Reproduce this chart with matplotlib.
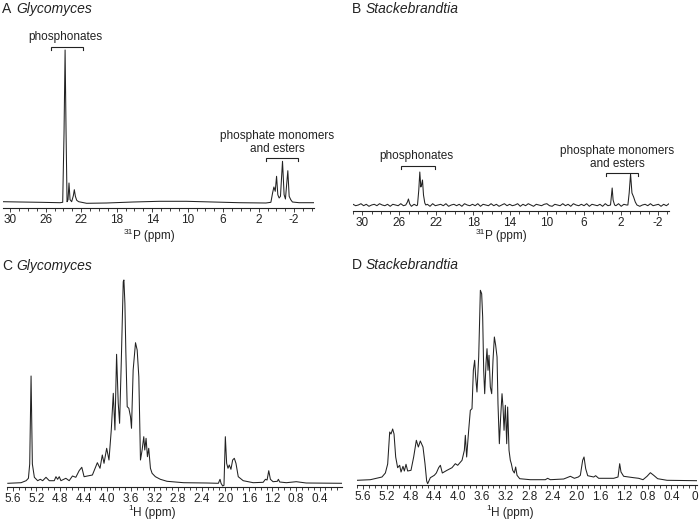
import numpy as np
import matplotlib
matplotlib.use("Agg")
from matplotlib import pyplot as plt
from matplotlib import ticker

plt.rcParams['font.family'] = ['Liberation Sans', 'DejaVu Sans']
plt.rcParams['axes.unicode_minus'] = False

# ---- traced spectra: (ppm, height above baseline in px) ----
a_ppm = [30.82, 28.88, 26.63, 24.39, 24.09, 23.94, 23.82, 23.71, 23.60, 23.49, 23.38, 23.26,
         23.08, 22.89, 22.78, 22.66, 22.51, 22.29, 21.39, 19.15, 16.15, 13.16, 10.16, 7.17,
         4.18, 1.18, 0.62, 0.43, 0.28, 0.13, -0.02, -0.16, -0.31, -0.46, -0.69, -0.87,
         -1.02, -1.14, -1.29, -1.44, -1.62, -1.81, -2.56, -4.24]
a_int = [1.3, 1.0, 0.7, 0.3, 0.7, 70, 153, 70, 1.3, 3.3, 20, 3.3,
         1.3, 7.3, 13.3, 6.7, 2.7, 1.3, -0.3, 0, 1.0, 1.7, 1.7, 1.0,
         0.3, 0, 0.7, 10, 16, 11.7, 26.7, 8.3, 5, 6.7, 41.7, 8.3,
         4, 16.7, 32.3, 6.7, 3.3, 1.0, 0.3, 0.3]

b_peak_ppm = [25.30, 25.12, 25.01, 24.87, 24.03, 23.89, 23.78, 23.67, 23.59, 23.49, 23.38,
              23.24, 23.13, 3.14, 3.04, 2.96, 2.86, 2.70, 1.26, 1.12, 0.97, 0.82, 0.64,
              0.46, 0.28]
b_peak_int = [0, 3, 6, 1, 0, 15, 33, 18, 20, 25, 10,
              2, 0, 0, 10, 17, 5, 0, 0, 12, 31, 12, 8,
              3, 0]
b_noise = [0.7, -0.7, 0, 1.3, -0.7, 0.7, -1.3, 0, 0.7, -0.7, 1.3, 0, -0.7, 0.7, -1.3, 0.7,
           0, -0.7, 1.3, -0.7, 0, 0.7, -1.3, 0.7, -0.7, 1.3, 0, -0.7, 0.7, -1.3, 1.3, -0.7,
           0, 0.7, -0.7, 1.3, -1.3, 0, 0.7, -0.7, 0.7, -1.3, 1.3, 0, -0.7, 0.7, -0.7, 1.3,
           -1.3, 0.7, 0, -0.7, 1.3, -0.7, 0.7, -1.3, 0, 1.3, -0.7, 0.7, -0.7, 0, 1.3, -1.3,
           0.7, -0.7, 1.3, 0, -1.3, 0.7, 0, -0.7, 0.7, 1.3, -0.7, -1.3, 0.7, 0, -0.7, 1.3,
           -0.7, 0.7, -1.3, 1.3, 0, -0.7, 0.7, -0.7, 1.3, -1.3, 0.7, 0, -0.7, 0.7, -1.3, 1.3,
           -0.7, 0, 0.7, -0.7, 1.3, -1.3, 0.7, 0, -0.7, 1.3, -0.7, 0.7, -1.3, 0, 0.7, -0.7,
           1.3, -0.7, 0, 0.7, -1.3, 0.7, -0.7, 1.3]
b_peak_windows = [(25.35, 24.80), (24.10, 23.10), (3.20, 2.65), (1.32, 0.25)]

c_ppm = [5.686, 5.461, 5.376, 5.337, 5.315, 5.292, 5.270, 5.236, 5.180, 5.135, 5.095, 5.039,
         4.983, 4.899, 4.870, 4.842, 4.814, 4.786, 4.702, 4.646, 4.590, 4.533, 4.477, 4.432,
         4.393, 4.336, 4.252, 4.168, 4.123, 4.084, 4.055, 4.010, 3.971, 3.932, 3.898, 3.870,
         3.842, 3.814, 3.791, 3.763, 3.729, 3.718, 3.701, 3.685, 3.662, 3.634, 3.606, 3.589,
         3.561, 3.521, 3.493, 3.465, 3.437, 3.409, 3.381, 3.364, 3.342, 3.319, 3.297, 3.268,
         3.240, 3.184, 3.100, 2.987, 2.706, 2.313, 2.116, 2.088, 2.071, 2.043, 2.021, 1.998,
         1.976, 1.953, 1.931, 1.903, 1.874, 1.846, 1.818, 1.779, 1.695, 1.526, 1.357, 1.318,
         1.290, 1.262, 1.234, 1.189, 1.116, 1.099, 1.076, 0.964, 0.795, 0.627, 0.008]
c_int = [0.7, 1.3, 3.3, 5.7, 20, 108, 20, 6.7, 3.3, 4.7, 3.3, 6.7,
         3.3, 3.3, 7.3, 4.7, 7.3, 3.3, 5.7, 3.3, 8, 6.7, 13.3, 16.7,
         7.3, 8, 9, 21.3, 15.7, 29, 20.7, 35.7, 24, 54, 90.7, 54,
         129.7, 80.7, 60.7, 120.7, 202.3, 204, 180.7, 132.3, 77.3, 75.7, 67.3, 55.7,
         114, 141.3, 134, 107.3, 24, 34, 47.3, 34, 45.7, 27.3, 35.7, 15.7,
         10.7, 7.3, 4.7, 2.7, 1.3, 1.0, 0.7, 4.7, 0.7, -2, -1.3, 47.3,
         20.7, 15.7, 19, 14.7, 24, 25.7, 20.7, 7.3, 3.3, 1.3, 1.7, 4.7,
         4, 13.3, 4.7, 2.3, 2.7, 4.7, 2, 1.3, 2.3, 1.0, 0.7]

d_ppm = [5.700, 5.475, 5.279, 5.222, 5.183, 5.149, 5.127, 5.099, 5.076, 5.048, 5.015, 4.981,
         4.958, 4.925, 4.902, 4.874, 4.846, 4.790, 4.745, 4.700, 4.666, 4.633, 4.588, 4.554,
         4.526, 4.509, 4.464, 4.397, 4.363, 4.324, 4.295, 4.262, 4.183, 4.099, 4.043, 4.003,
         3.930, 3.891, 3.874, 3.852, 3.818, 3.790, 3.762, 3.739, 3.717, 3.700, 3.678, 3.649,
         3.621, 3.599, 3.582, 3.565, 3.548, 3.526, 3.509, 3.492, 3.475, 3.453, 3.430, 3.408,
         3.385, 3.363, 3.340, 3.324, 3.301, 3.279, 3.256, 3.239, 3.222, 3.200, 3.177, 3.161,
         3.138, 3.116, 3.099, 3.076, 3.048, 3.026, 3.003, 2.958, 2.779, 2.526, 2.487, 2.442,
         2.217, 2.104, 2.037, 1.970, 1.936, 1.897, 1.874, 1.846, 1.812, 1.711, 1.678, 1.627,
         1.374, 1.301, 1.273, 1.251, 1.206, 1.121, 1.037, 0.953, 0.880, 0.812, 0.756, 0.700,
         0.633, 0.475, -0.030]
d_int = [0.7, 1.3, 4, 8, 17, 49, 47, 52, 47, 24, 13.3, 15.7,
         9, 14.7, 10, 16.7, 10, 10.7, 24, 40.7, 34, 40, 34, 17.3,
         0, -2.7, 3.3, 5.7, 8, 13.3, 15.7, 8, 10.7, 13.3, 17.3, 15.7,
         20.7, 30.7, 45.7, 24, 50.7, 70.7, 72.3, 110.7, 120.7, 104, 89, 124,
         190.7, 187.3, 164, 110.7, 87.3, 117.3, 132.3, 110.7, 125.7, 94, 87.3, 120.7,
         144, 135.7, 124, 77.3, 37.3, 64, 87.3, 74, 50.7, 75.7, 37.3, 74,
         30.7, 20.7, 17.3, 10.7, 8, 14, 5.7, 2.3, 1.3, 1.3, 2.7, 1.3,
         2, 4.7, 2.7, 4, 5.7, 20.7, 24, 12.3, 5.3, 4, 5.3, 2.7,
         2.7, 4, 17.3, 9, 4.7, 4, 3.3, 2.7, 1.3, 4.7, 8.3, 5.7,
         2.3, 0.7, 0.3]

p_ticks = [30, 26, 22, 18, 14, 10, 6, 2, -2]
h_ticks_c = [5.6, 5.2, 4.8, 4.4, 4.0, 3.6, 3.2, 2.8, 2.4, 2.0, 1.6, 1.2, 0.8, 0.4]
h_ticks_d = h_ticks_c + [0.0]

W, H = 700, 522
INK = '#222222'


def fx(x):
    return x / W


def fy(y):
    return 1 - y / H


def make_axes(fig, left, right, top, bottom, xlim, ylim):
    ax = fig.add_axes([fx(left), fy(bottom), (right - left) / W, (bottom - top) / H])
    ax.set_xlim(*xlim)
    ax.set_ylim(*ylim)
    for s in ['left', 'right', 'top']:
        ax.spines[s].set_visible(False)
    ax.spines['bottom'].set_linewidth(0.8)
    ax.spines['bottom'].set_color(INK)
    ax.set_yticks([])
    ax.tick_params(axis='x', which='both', direction='out', color=INK,
                   labelsize=8.5, labelcolor=INK, pad=1.5, width=0.6)
    ax.tick_params(axis='x', which='major', length=3)
    ax.tick_params(axis='x', which='minor', length=2.2)
    ax.patch.set_alpha(0)
    return ax


def bracket(ax, x0, x1, y, drop):
    ax.plot([x0, x0, x1, x1], [y - drop, y, y, y - drop], color=INK, lw=0.8,
            clip_on=False, solid_joinstyle='miter')


def title(fig, x, y, letter, name):
    fig.text(fx(x), fy(y), letter, fontsize=10, color=INK, va='center', ha='left')
    fig.text(fx(x + 14), fy(y), name, fontsize=10, color=INK, va='center', ha='left',
             style='italic')


def xlabel(fig, x, y, sup, rest):
    # small raised isotope number followed by the nucleus and unit
    fig.text(fx(x), fy(y - 4), sup, fontsize=6, color=INK, ha='right', va='center')
    fig.text(fx(x), fy(y), rest, fontsize=8.5, color=INK, ha='left', va='center')


fig = plt.figure(figsize=(7, 5.22), dpi=100)

# ---- A ----
axA = make_axes(fig, 3, 314, 40, 208, (30.82, -4.24), (-5, 163))
axA.plot(a_ppm, a_int, color=INK, lw=0.75)
axA.set_xticks(p_ticks)
axA.set_xticklabels([str(t) for t in p_ticks])
axA.xaxis.set_minor_locator(ticker.MultipleLocator(1))
axA.text(23.82, 203 - 37, 'phosphonates', fontsize=8.5, color=INK, ha='center', va='center')
bracket(axA, 25.43, 21.77, 203 - 47, 3)
axA.text(-0.13, 203 - 142.5, 'phosphate monomers\nand esters', fontsize=8.5, color=INK,
         ha='center', va='center', linespacing=1.15)
bracket(axA, 1.18, -2.45, 203 - 158, 3)
title(fig, 2, 9, 'A', 'Glycomyces')
xlabel(fig, 133, 236, '31', 'P (ppm)')

# ---- B ----
axB = make_axes(fig, 353, 669, 40, 211, (31.01, -3.19), (-6, 165))
grid = np.linspace(31.01, -3.19, len(b_noise))
keep = np.ones(len(grid), dtype=bool)
for hi, lo in b_peak_windows:
    keep &= ~((grid <= hi) & (grid >= lo))
bx = np.concatenate([grid[keep], b_peak_ppm])
by = np.concatenate([np.array(b_noise)[keep], b_peak_int])
order = np.argsort(-bx)
axB.plot(bx[order], by[order], color=INK, lw=0.75)
axB.set_xticks(p_ticks)
axB.set_xticklabels([str(t) for t in p_ticks])
axB.xaxis.set_minor_locator(ticker.MultipleLocator(1))
axB.text(24.2, 205 - 156, 'phosphonates', fontsize=8.5, color=INK, ha='center', va='center')
bracket(axB, 25.77, 22.15, 205 - 166, 3)
axB.text(2.42, 205 - 157.5, 'phosphate monomers\nand esters', fontsize=8.5, color=INK,
         ha='center', va='center', linespacing=1.15)
bracket(axB, 3.68, 0.14, 205 - 173, 3)
title(fig, 352, 9, 'B', 'Stackebrandtia')
xlabel(fig, 485, 236, '31', 'P (ppm)')

# ---- C ----
axC = make_axes(fig, 7, 342, 272, 487, (5.70, 0.02), (-3, 212))
axC.plot(c_ppm, c_int, color=INK, lw=0.75)
axC.set_xticks(h_ticks_c)
axC.set_xticklabels(['%.1f' % t for t in h_ticks_c])
axC.xaxis.set_minor_locator(ticker.MultipleLocator(0.1))
title(fig, 2, 266, 'C', 'Glycomyces')
xlabel(fig, 133, 513, '1', 'H (ppm)')

# ---- D ----
axD = make_axes(fig, 357, 697, 272, 485, (5.70, -0.03), (-4, 209))
axD.plot(d_ppm, d_int, color=INK, lw=0.75)
axD.set_xticks(h_ticks_d)
axD.set_xticklabels(['%.1f' % t if t != 0 else '0' for t in h_ticks_d])
axD.xaxis.set_minor_locator(ticker.MultipleLocator(0.1))
title(fig, 352, 265, 'D', 'Stackebrandtia')
xlabel(fig, 491, 513, '1', 'H (ppm)')

fig.savefig('out.png', dpi=100)
